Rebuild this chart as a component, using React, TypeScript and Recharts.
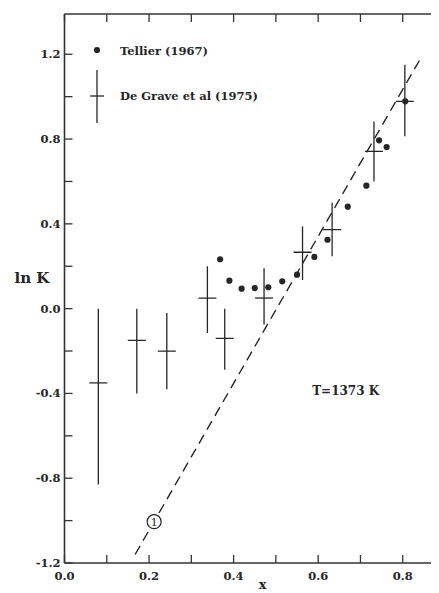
import {
  ErrorBar,
  Legend,
  ReferenceDot,
  ReferenceLine,
  Scatter,
  ScatterChart,
  XAxis,
  YAxis,
} from "recharts";

const TELLIER = "Tellier (1967)";
const DEGRAVE = "De Grave et al (1975)";

// Tellier (1967) - dots
const tellierX = [0.368, 0.39, 0.419, 0.45, 0.482, 0.515, 0.55, 0.591, 0.622, 0.67, 0.714, 0.744, 0.762, 0.806];
const tellierY = [0.233, 0.132, 0.094, 0.097, 0.101, 0.129, 0.16, 0.244, 0.325, 0.481, 0.58, 0.794, 0.762, 0.978];

// De Grave et al (1975) - crosses with error bars
const deGraveX = [0.08, 0.171, 0.242, 0.338, 0.379, 0.472, 0.563, 0.633, 0.732, 0.805];
const deGraveY = [-0.35, -0.15, -0.2, 0.05, -0.14, 0.05, 0.266, 0.373, 0.742, 0.978];
const deGraveLow = [-0.83, -0.4, -0.38, -0.115, -0.288, -0.075, 0.135, 0.247, 0.6, 0.813];
const deGraveHigh = [0.0, 0.0, -0.02, 0.2, 0.0, 0.19, 0.388, 0.5, 0.883, 1.15];

// fitted dashed line, end points
const fitLine = [
  { x: 0.167, y: -1.16 },
  { x: 0.845, y: 1.19 },
];
const markOne = { x: 0.212, y: -1.005, text: "1" };
const tempNote = { x: 0.665, y: -0.385, text: "T=1373 K" };

const xTicks = [0, 0.1, 0.2, 0.3, 0.4, 0.5, 0.6, 0.7, 0.8, 0.9];
const xLabelTicks = [0, 0.2, 0.4, 0.6, 0.8];
const yTicks = [-1.2, -1.0, -0.8, -0.6, -0.4, -0.2, 0, 0.2, 0.4, 0.6, 0.8, 1.0, 1.2];
const yLabelTicks = [-1.2, -0.8, -0.4, 0, 0.4, 0.8, 1.2];

const tellierData = tellierX.map((x, i) => ({ x, y: tellierY[i] }));
const deGraveData = deGraveX.map((x, i) => ({
  x,
  y: deGraveY[i],
  err: [deGraveY[i] - deGraveLow[i], deGraveHigh[i] - deGraveY[i]],
}));

const INK = "#262626";
const LINE = "#333";
const FONT = "DejaVu Serif";

const has = (list: number[], v: number) => list.some((t) => Math.abs(t - v) < 1e-6);

const BottomTick = (props: any) => {
  const { x, y, payload } = props;
  return (
    <g>
      <line x1={x} x2={x} y1={y} y2={y - 8} stroke={LINE} strokeWidth={1.3} />
      {has(xLabelTicks, payload.value) && (
        <text x={x} y={y + 17} textAnchor="middle" fontSize={11.5} fontWeight="bold" fontFamily={FONT} fill={INK}>
          {payload.value.toFixed(1)}
        </text>
      )}
    </g>
  );
};

const TopTick = (props: any) => {
  const { x, y } = props;
  return <line x1={x} x2={x} y1={y} y2={y + 8} stroke={LINE} strokeWidth={1.3} />;
};

const LeftTick = (props: any) => {
  const { x, y, payload } = props;
  return (
    <g>
      <line x1={x} x2={x + 8} y1={y} y2={y} stroke={LINE} strokeWidth={1.3} />
      {has(yLabelTicks, payload.value) && (
        <text x={x - 4} y={y + 4} textAnchor="end" fontSize={11.5} fontWeight="bold" fontFamily={FONT} fill={INK}>
          {payload.value.toFixed(1)}
        </text>
      )}
    </g>
  );
};

const RightTick = (props: any) => {
  const { x, y } = props;
  return <line x1={x} x2={x - 8} y1={y} y2={y} stroke={LINE} strokeWidth={1.3} />;
};

const DotShape = (props: any) => {
  const { cx, cy } = props;
  return <circle cx={cx} cy={cy} r={3.1} fill={INK} />;
};

const CrossShape = (props: any) => {
  const { cx, cy } = props;
  return <line x1={cx - 9} x2={cx + 9} y1={cy} y2={cy} stroke={INK} strokeWidth={1.3} />;
};

const NoShape = () => <g />;

const renderLegend = () => (
  <svg width={230} height={95}>
    <circle cx={11} cy={12} r={3.1} fill={INK} />
    <text x={34} y={17} fontSize={11.5} fontWeight="bold" fontFamily={FONT} fill={INK}>
      {TELLIER}
    </text>
    <line x1={11} x2={11} y1={32} y2={85} stroke={INK} strokeWidth={1.3} />
    <line x1={4} x2={18} y1={58} y2={58} stroke={INK} strokeWidth={1.3} />
    <text x={34} y={62} fontSize={11.5} fontWeight="bold" fontFamily={FONT} fill={INK}>
      {DEGRAVE}
    </text>
  </svg>
);

export default function App() {
  return (
    <div style={{ width: 431, height: 585, overflow: "hidden", fontFamily: FONT }}>
      <ScatterChart width={442} height={585} margin={{ top: 5, right: 4, left: 6.5, bottom: 0 }}>
        <XAxis
          dataKey="x"
          type="number"
          domain={[0, 0.9]}
          allowDataOverflow
          ticks={xTicks}
          interval={0}
          tickLine={false}
          tickSize={0}
          tickMargin={0}
          tick={<BottomTick />}
          height={30}
          axisLine={{ stroke: LINE, strokeWidth: 1.6 }}
          label={{ value: "x", position: "insideBottom", offset: 4, dx: 8, fontSize: 13, fontWeight: "bold", fill: INK }}
        />
        <XAxis
          xAxisId="top"
          dataKey="x"
          orientation="top"
          type="number"
          domain={[0, 0.9]}
          allowDataOverflow
          ticks={xTicks}
          interval={0}
          tickLine={false}
          tickSize={0}
          tickMargin={0}
          tick={<TopTick />}
          height={1}
          axisLine={{ stroke: LINE, strokeWidth: 1.6 }}
        />
        <YAxis
          dataKey="y"
          type="number"
          domain={[-1.2, 1.39]}
          allowDataOverflow
          ticks={yTicks}
          interval={0}
          tickLine={false}
          tickSize={0}
          tickMargin={0}
          tick={<LeftTick />}
          width={50}
          axisLine={{ stroke: LINE, strokeWidth: 1.6 }}
          label={{ value: "ln K", position: "insideLeft", offset: 0, dy: -11, fontSize: 15, fontWeight: "bold", fill: INK }}
        />
        <YAxis
          yAxisId="right"
          dataKey="y"
          orientation="right"
          type="number"
          domain={[-1.2, 1.39]}
          allowDataOverflow
          ticks={yTicks}
          interval={0}
          tickLine={false}
          tickSize={0}
          tickMargin={0}
          tick={<RightTick />}
          width={1}
          axisLine={{ stroke: LINE, strokeWidth: 1.6 }}
        />
        <Legend
          layout="vertical"
          align="center"
          verticalAlign="middle"
          content={renderLegend}
          wrapperStyle={{ left: 78, top: 30, width: 230, height: 95 }}
        />
        <ReferenceLine
          segment={fitLine}
          stroke={INK}
          strokeWidth={1.4}
          strokeDasharray="10 6"
        />
        {/* invisible series so the frame axes (top / right) get a scale */}
        <Scatter
          xAxisId="top"
          yAxisId="right"
          data={tellierData}
          shape={<NoShape />}
          legendType="none"
          isAnimationActive={false}
        />
        <Scatter
          name={TELLIER}
          data={tellierData}
          fill={INK}
          shape={<DotShape />}
          isAnimationActive={false}
        />
        <Scatter
          name={DEGRAVE}
          data={deGraveData}
          fill={INK}
          shape={<CrossShape />}
          isAnimationActive={false}
        >
          <ErrorBar dataKey="err" direction="y" width={0} stroke={INK} strokeWidth={1.3} isAnimationActive={false} />
        </Scatter>
        <ReferenceDot
          x={markOne.x}
          y={markOne.y}
          r={7}
          fill="#fff"
          stroke={INK}
          strokeWidth={1.2}
          label={{ value: markOne.text, position: "center", fontSize: 11, fill: INK }}
        />
        <ReferenceDot
          x={tempNote.x}
          y={tempNote.y}
          r={0}
          fill="none"
          stroke="none"
          label={{ value: tempNote.text, position: "center", fontSize: 12, fontWeight: "bold", fill: INK }}
        />
      </ScatterChart>
    </div>
  );
}
